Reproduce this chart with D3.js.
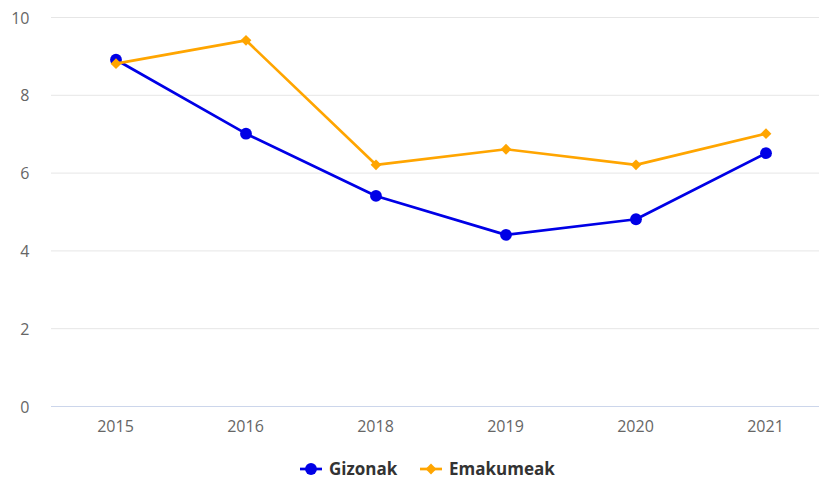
<!DOCTYPE html>
<html>
<head>
<meta charset="utf-8">
<script src="https://cdn.jsdelivr.net/npm/d3@7"></script>
<style>
  body { margin: 0; background: #fff; }
  text { font-family: "Open Sans", sans-serif; }
</style>
</head>
<body>
<svg id="chart"></svg>
<script>
const years = ["2015", "2016", "2018", "2019", "2020", "2021"];
const gizonak = [8.9, 7.0, 5.4, 4.4, 4.8, 6.5];
const emakumeak = [8.8, 9.4, 6.2, 6.6, 6.2, 7.0];
const yTicks = [0, 2, 4, 6, 8, 10];

const series = [
  { name: "Gizonak", values: gizonak, color: "#0000e6", symbol: d3.symbolCircle, size: 110, rotate: 0 },
  { name: "Emakumeak", values: emakumeak, color: "#ffa500", symbol: d3.symbolSquare, size: 58, rotate: 45 }
];

const svgWidth = 819, svgHeight = 480;
const plotLeft = 51, plotRight = 819, plotTop = 17, plotBottom = 406;

const svg = d3.select("#chart")
  .attr("width", svgWidth)
  .attr("height", svgHeight);

const xScale = d3.scalePoint()
  .domain(years)
  .range([116, 766]);

const yScale = d3.scaleLinear()
  .domain([0, 10])
  .range([plotBottom, plotTop]);

// gridlines
svg.append("g")
  .selectAll("line")
  .data(yTicks)
  .enter()
  .append("line")
  .attr("x1", plotLeft)
  .attr("x2", plotRight)
  .attr("y1", d => yScale(d) + 0.5)
  .attr("y2", d => yScale(d) + 0.5)
  .attr("stroke", d => d === 0 ? "#ccd6eb" : "#e6e6e6")
  .attr("stroke-width", 1);

// y labels
svg.append("g")
  .selectAll("text")
  .data(yTicks)
  .enter()
  .append("text")
  .attr("x", 29.5)
  .attr("y", d => yScale(d) + 6.5)
  .attr("text-anchor", "end")
  .attr("fill", "#666")
  .style("font-size", "16px")
  .text(d => d);

// x labels
svg.append("g")
  .selectAll("text")
  .data(years)
  .enter()
  .append("text")
  .attr("x", d => xScale(d) - 0.5)
  .attr("y", 431.5)
  .attr("text-anchor", "middle")
  .attr("fill", "#666")
  .style("font-size", "16px")
  .text(d => d);

const line = d3.line()
  .x((d, i) => xScale(years[i]))
  .y(d => yScale(d));

series.forEach(s => {
  svg.append("path")
    .datum(s.values)
    .attr("d", line)
    .attr("fill", "none")
    .attr("stroke", s.color)
    .attr("stroke-width", 2.7)
    .attr("stroke-linejoin", "round");

  svg.append("g")
    .selectAll("path")
    .data(s.values)
    .enter()
    .append("path")
    .attr("d", d3.symbol().type(s.symbol).size(s.size))
    .attr("transform", (d, i) => `translate(${xScale(years[i])},${yScale(d)}) rotate(${s.rotate})`)
    .attr("fill", s.color);
});

// legend
const legendX = [300, 420];
const legend = svg.append("g");
series.forEach((s, i) => {
  const g = legend.append("g").attr("transform", `translate(${legendX[i]},469)`);
  g.append("line")
    .attr("x1", 0).attr("x2", 22)
    .attr("stroke", s.color)
    .attr("stroke-width", 2.7);
  g.append("path")
    .attr("d", d3.symbol().type(s.symbol).size(s.size))
    .attr("transform", `translate(11,0) rotate(${s.rotate})`)
    .attr("fill", s.color);
  g.append("text")
    .attr("x", 29)
    .attr("y", 6)
    .attr("fill", "#333")
    .style("font-size", "17px")
    .style("font-weight", "bold")
    .text(s.name);
});
</script>
</body>
</html>
